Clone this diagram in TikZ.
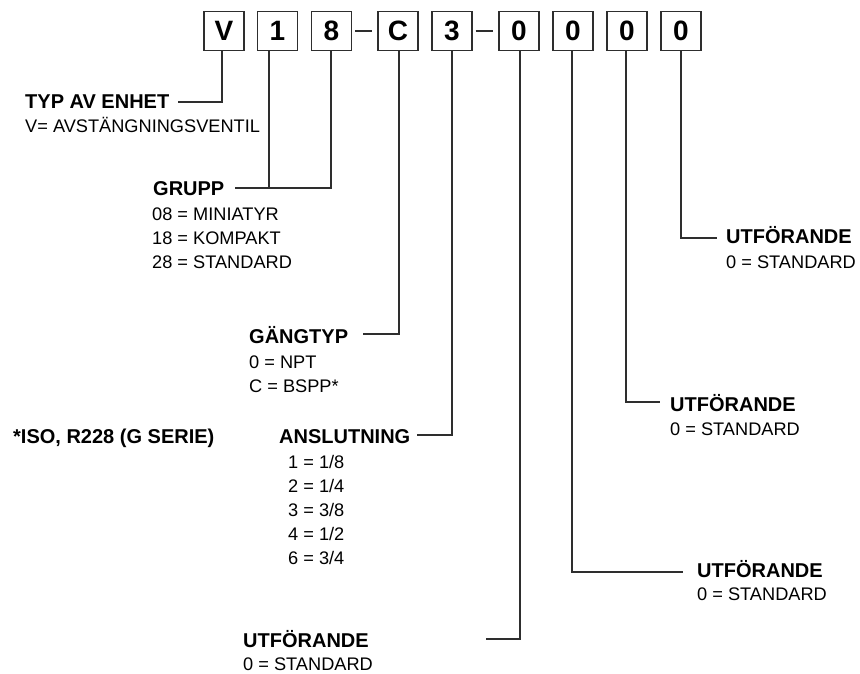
\documentclass[tikz,border=0pt]{standalone}
\usepackage{fontspec}
\setmainfont{Liberation Sans}
\definecolor{ln}{HTML}{2E2E2E}
\begin{document}
\begin{tikzpicture}[x=1pt,y=-1pt,
  codebox/.style={draw=ln,line width=1.4pt,minimum width=40pt,minimum height=39pt,inner sep=0pt,font=\fontsize{28}{30}\selectfont\bfseries},
  head/.style={anchor=base west,inner sep=0pt,font=\fontsize{20}{24}\selectfont\bfseries},
  desc/.style={anchor=base west,inner sep=0pt,font=\fontsize{18.2}{24}\selectfont},
  conn/.style={draw=ln,line width=1.2pt}]
\useasboundingbox (0,0) rectangle (860,674);
% code boxes
\node[codebox] (bV) at (224,31) {V};
\node[codebox] (b1) at (277.5,31) {1};
\node[codebox] (b8) at (331.5,31) {8};
\node[codebox] (bC) at (398,31) {C};
\node[codebox] (b3) at (452,31) {3};
\node[codebox] (b01) at (519,31) {0};
\node[codebox] (b02) at (573,31) {0};
\node[codebox] (b03) at (627,31) {0};
\node[codebox] (b04) at (681,31) {0};
\draw[conn] ([xshift=3pt]b8.east) -- ([xshift=-5pt]bC.west);
\draw[conn] ([xshift=3pt]b3.east) -- ([xshift=-5pt]b01.west);
% labels
\node[head] (hTyp) at (25,109) {TYP AV ENHET};
\node[desc] (dTyp) at (25,133) {V= AVSTÄNGNINGSVENTIL};
\node[head] (hGrp) at (153,196) {GRUPP};
\node[desc] (dGrp1) at (152,220) {08 = MINIATYR};
\node[desc] (dGrp2) at (152,244) {18 = KOMPAKT};
\node[desc] (dGrp3) at (152,268) {28 = STANDARD};
\node[head] (hGang) at (249,343) {GÄNGTYP};
\node[desc] (dGang1) at (249,368) {0 = NPT};
\node[desc] (dGang2) at (249,392) {C = BSPP*};
\node[head] (hIso) at (13,443) {*ISO, R228 (G SERIE)};
\node[head] (hAns) at (279,443) {ANSLUTNING};
\node[desc] (dAns1) at (288,468) {1 = 1/8};
\node[desc] (dAns2) at (288,492) {2 = 1/4};
\node[desc] (dAns3) at (288,516) {3 = 3/8};
\node[desc] (dAns4) at (288,540) {4 = 1/2};
\node[desc] (dAns5) at (288,564) {6 = 3/4};
\node[head] (hU4) at (726,243) {UTFÖRANDE};
\node[desc] (dU4) at (726,268) {0 = STANDARD};
\node[head] (hU3) at (670,411) {UTFÖRANDE};
\node[desc] (dU3) at (670,435) {0 = STANDARD};
\node[head] (hU2) at (697,577) {UTFÖRANDE};
\node[desc] (dU2) at (697,600) {0 = STANDARD};
\node[head] (hU1) at (243,647) {UTFÖRANDE};
\node[desc] (dU1) at (243,670) {0 = STANDARD};
% connector anchor points
\coordinate (tTyp) at (178,102);
\coordinate (tGrp) at (235,188);
\coordinate (tGang) at (363,334);
\coordinate (tAns) at (417,435);
\coordinate (tU4) at (717,238);
\coordinate (tU3) at (660,402);
\coordinate (tU2) at (683,572);
\coordinate (tU1) at (486,639);
\coordinate (sV) at ([xshift=-2pt]bV.south);
\coordinate (s1) at ([xshift=-8.5pt]b1.south);
\coordinate (s8) at ([xshift=-0.5pt]b8.south);
\coordinate (sC) at ([xshift=1pt]bC.south);
\coordinate (s01) at ([xshift=1pt]b01.south);
\coordinate (s02) at ([xshift=-1pt]b02.south);
\coordinate (s03) at ([xshift=-1pt]b03.south);
% connectors
\draw[conn] (tTyp) -| (sV);
\draw[conn] (tGrp) -| (s8);
\draw[conn] (s1) -- (s1 |- tGrp);
\draw[conn] (tGang) -| (sC);
\draw[conn] (tAns) -| (b3.south);
\draw[conn] (b04.south) |- (tU4);
\draw[conn] (s03) |- (tU3);
\draw[conn] (s02) |- (tU2);
\draw[conn] (tU1) -| (s01);
\end{tikzpicture}
\end{document}
